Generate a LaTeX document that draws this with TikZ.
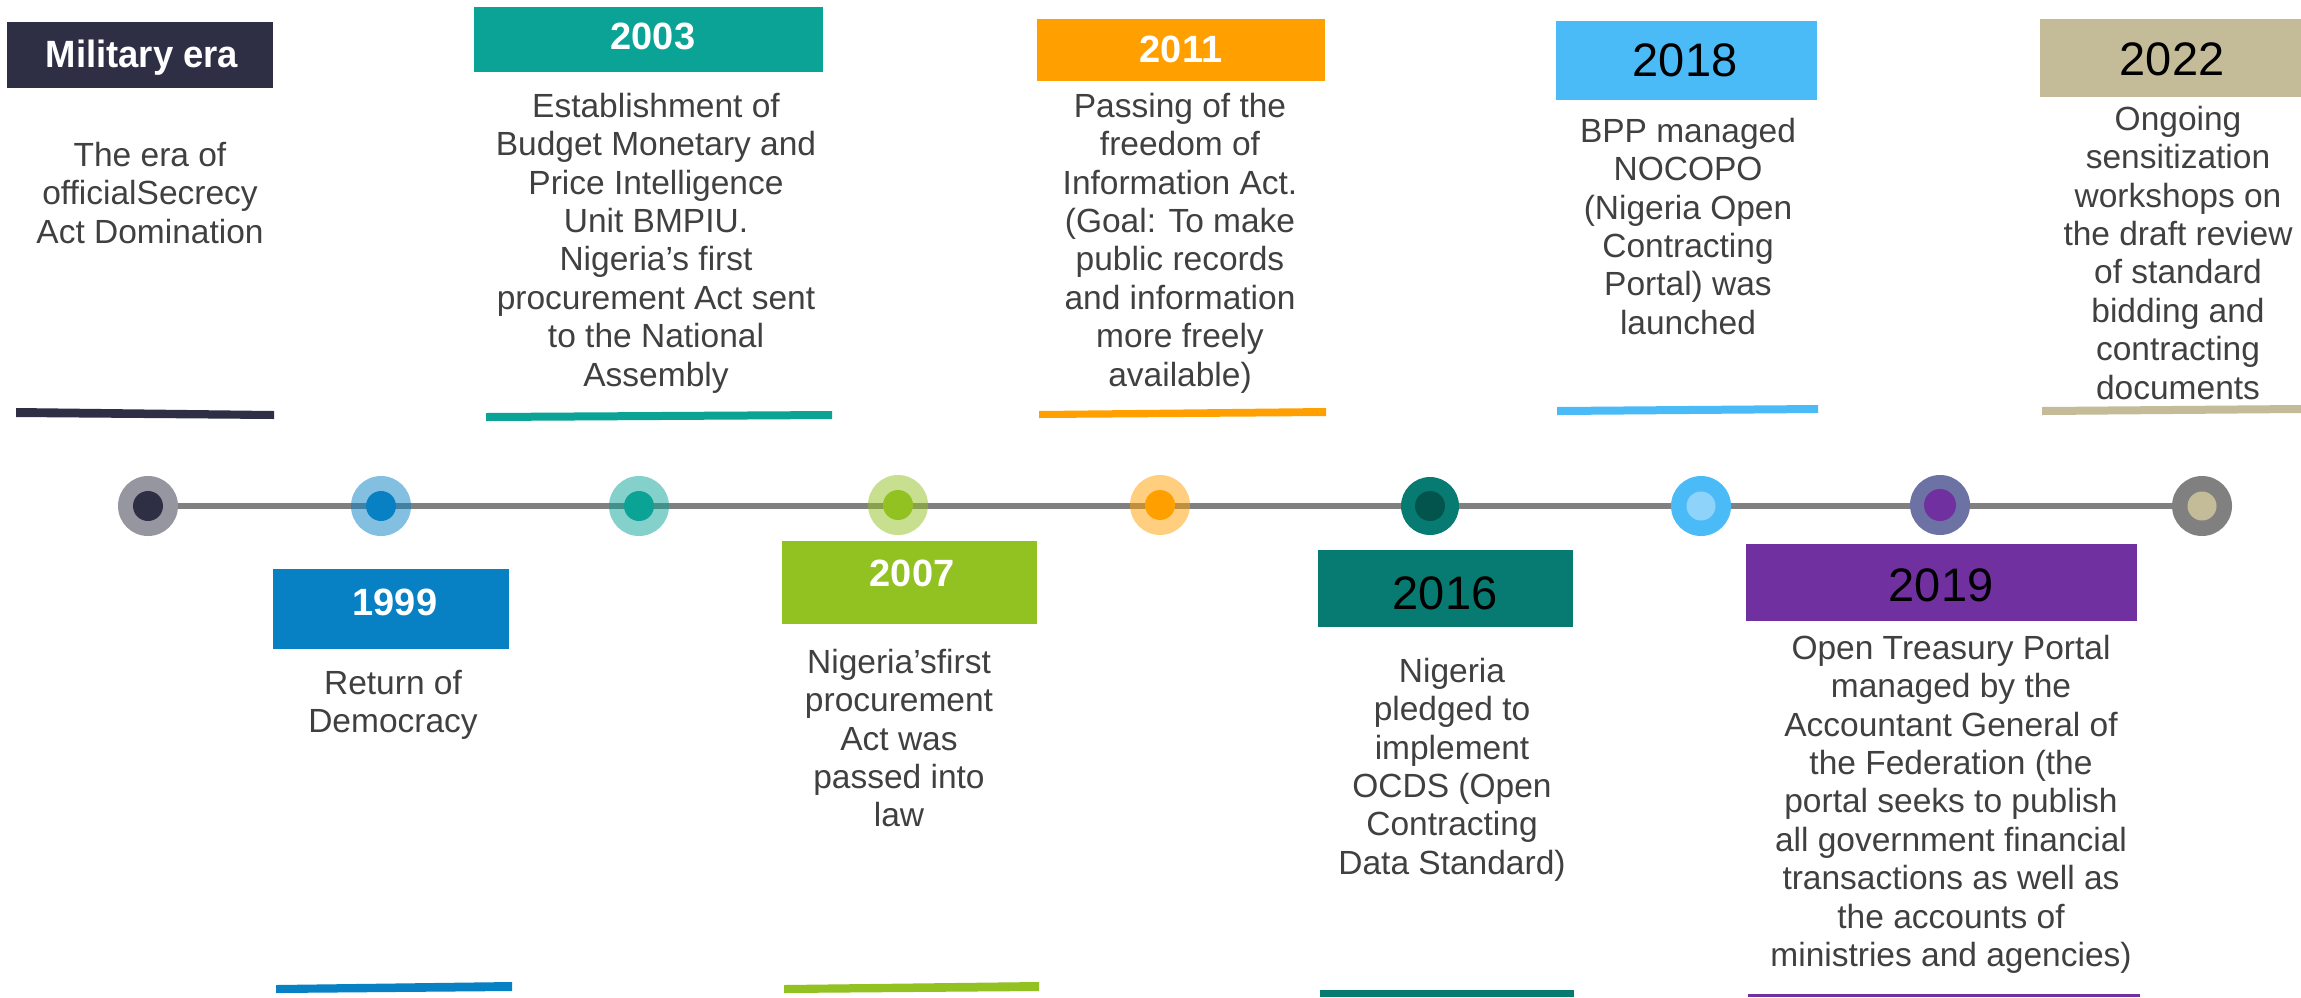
\documentclass[tikz,border=0pt]{standalone}
\usepackage{fontspec}
\usepackage{graphicx}
\setmainfont{Liberation Sans}
\pgfdeclarelayer{background}
\pgfsetlayers{background,main}
\definecolor{cMil}{HTML}{2E2F45}
\definecolor{c1999}{HTML}{0780C4}
\definecolor{c2003}{HTML}{0AA396}
\definecolor{c2007}{HTML}{92C122}
\definecolor{c2011}{HTML}{FFA000}
\definecolor{c2016}{HTML}{077B72}
\definecolor{c2016d}{HTML}{04544E}
\definecolor{c2018}{HTML}{4BBBF8}
\definecolor{c2018l}{HTML}{8DD3FA}
\definecolor{c2019}{HTML}{7030A0}
\definecolor{c2019o}{HTML}{6C72A3}
\definecolor{c2022}{HTML}{C4BC98}
\definecolor{lineg}{HTML}{808080}
\definecolor{txt}{HTML}{404040}
\begin{document}
\begin{tikzpicture}[x=1pt,y=-1pt,
  yearbox/.style={rectangle, inner sep=0, draw=none},
  whiteyear/.style={inner sep=0, text=white, text height=27.2pt, text depth=0pt,
    font=\bfseries\fontsize{38}{40}\selectfont},
  blackyear/.style={inner sep=0, text=black, text height=33.7pt, text depth=0pt,
    font=\fontsize{47}{50}\selectfont},
  body/.style={anchor=north, inner sep=0, align=center, text=txt,
    font=\fontsize{33.5}{38.4}\selectfont},
  ring/.style={circle, inner sep=0, minimum size=60pt, draw=none},
  dot/.style={circle, inner sep=0, minimum size=30pt, draw=none},
  tline/.style={draw=lineg, line width=6pt}]
\useasboundingbox (0,0) rectangle (2301,997);

% ---------- year boxes ----------
\node[yearbox, fill=cMil,  minimum width=266pt, minimum height=66pt] (bMil)  at (140,55) {};
\node[yearbox, fill=c2003, minimum width=349pt, minimum height=65pt] (b2003) at (648.5,39.5) {};
\node[yearbox, fill=c2011, minimum width=288pt, minimum height=62pt] (b2011) at (1181,50) {};
\node[yearbox, fill=c2018, minimum width=261pt, minimum height=79pt] (b2018) at (1686.5,60.5) {};
\node[yearbox, fill=c2022, minimum width=261pt, minimum height=78pt] (b2022) at (2170.5,58) {};
\node[yearbox, fill=c1999, minimum width=236pt, minimum height=80pt] (b1999) at (391,609) {};
\node[yearbox, fill=c2007, minimum width=255pt, minimum height=83pt] (b2007) at (909.5,582.5) {};
\node[yearbox, fill=c2016, minimum width=255pt, minimum height=77pt] (b2016) at (1445.5,588.5) {};
\node[yearbox, fill=c2019, minimum width=391pt, minimum height=77pt] (b2019) at (1941.5,582.5) {};

% ---------- year labels ----------
\node[whiteyear] (yMil)  at (142,54)   {\scalebox{0.96}[1]{Military era}};
\node[whiteyear] (y2003) at (653,36)   {2003};
\node[whiteyear] (y2011) at (1181,49)  {2011};
\node[blackyear] (y2018) at (1685,60)  {2018};
\node[blackyear] (y2022) at (2172,59)  {2022};
\node[whiteyear] (y1999) at (395,602)  {1999};
\node[whiteyear] (y2007) at (912,573)  {2007};
\node[blackyear] (y2016) at (1445,593) {2016};
\node[blackyear] (y2019) at (1941,585) {2019};

% ---------- descriptions ----------
\node[body] (tMil) at (150,140) {\rule{0pt}{26pt}The era of\\officialSecrecy\\Act Domination};
\node[body] (t2003) at (656,91) {\rule{0pt}{26pt}Establishment of\\Budget Monetary and\\Price Intelligence\\Unit BMPIU.\\Nigeria’s first\\procurement Act sent\\to the National\\Assembly};
\node[body] (t2011) at (1180,91) {\rule{0pt}{26pt}Passing of the\\freedom of\\Information Act.\\(Goal: To make\\public records\\and information\\more freely\\available)};
\node[body] (t2018) at (1688,116) {\rule{0pt}{26pt}BPP managed\\NOCOPO\\(Nigeria Open\\Contracting\\Portal) was\\launched};
\node[body] (t2022) at (2178,104) {\rule{0pt}{26pt}Ongoing\\sensitization\\workshops on\\the draft review\\of standard\\bidding and\\contracting\\documents};
\node[body] (t1999) at (393,668) {\rule{0pt}{26pt}Return of\\Democracy};
\node[body] (t2007) at (899,647) {\rule{0pt}{26pt}Nigeria’sfirst\\procurement\\Act was\\passed into\\law};
\node[body] (t2016) at (1452,656) {\rule{0pt}{26pt}Nigeria\\pledged to\\implement\\OCDS (Open\\Contracting\\Data Standard)};
\node[body] (t2019) at (1951,633) {\rule{0pt}{26pt}Open Treasury Portal\\managed by the\\Accountant General of\\the Federation (the\\portal seeks to publish\\all government financial\\transactions as well as\\the accounts of\\ministries and agencies)};

% ---------- underline bars ----------
\fill[cMil]  (16,408) -- (274,411) -- (274,419) -- (16,417) -- cycle;
\fill[c2003] (486,413) -- (832,411) -- (832,419) -- (486,421) -- cycle;
\fill[c2011] (1039,411) -- (1326,408) -- (1326,416) -- (1039,418) -- cycle;
\fill[c2018] (1557,407) -- (1818,405) -- (1818,413) -- (1557,415) -- cycle;
\fill[c2022] (2042,407) -- (2301,405) -- (2301,413) -- (2042,415) -- cycle;
\fill[c1999] (276,985) -- (512,982) -- (512,991) -- (276,993) -- cycle;
\fill[c2007] (784,985) -- (1039,982) -- (1039,991) -- (784,993) -- cycle;
\fill[c2016] (1320,990) -- (1574,990) -- (1574,997) -- (1320,997) -- cycle;
\fill[c2019] (1748,994) -- (2140,994) -- (2140,997) -- (1748,997) -- cycle;

% ---------- timeline circles ----------
\node[ring, fill=cMil, fill opacity=0.5] (c1) at (148,506) {};
\node[dot, fill=cMil] (d1) at (c1) {};
\node[ring, fill=c1999, fill opacity=0.5] (c2) at (381,506) {};
\node[dot, fill=c1999] (d2) at (c2) {};
\node[ring, fill=c2003, fill opacity=0.5] (c3) at (639,506) {};
\node[dot, fill=c2003] (d3) at (c3) {};
\node[ring, fill=c2007, fill opacity=0.5] (c4) at (898,505) {};
\node[dot, fill=c2007] (d4) at (c4) {};
\node[ring, fill=c2011, fill opacity=0.5] (c5) at (1160,505) {};
\node[dot, fill=c2011] (d5) at (c5) {};
\node[ring, fill=c2016, minimum size=58pt] (c6) at (1430,506) {};
\node[dot, fill=c2016d] (d6) at (c6) {};
\node[ring, fill=c2018] (c7) at (1701,506) {};
\node[dot, fill=c2018l, minimum size=29pt] (d7) at (c7) {};
\node[ring, fill=c2019o] (c8) at (1940,505) {};
\node[dot, fill=c2019, minimum size=32pt] (d8) at (c8) {};
\node[ring, fill=lineg] (c9) at (2202,506) {};
\node[dot, fill=c2022, minimum size=29pt] (d9) at (c9) {};

\begin{pgfonlayer}{background}
\fill[white] (0,0) rectangle (2301,997);
\draw[tline] (c1.east) -- (c9.west);
\end{pgfonlayer}
\end{tikzpicture}
\end{document}
